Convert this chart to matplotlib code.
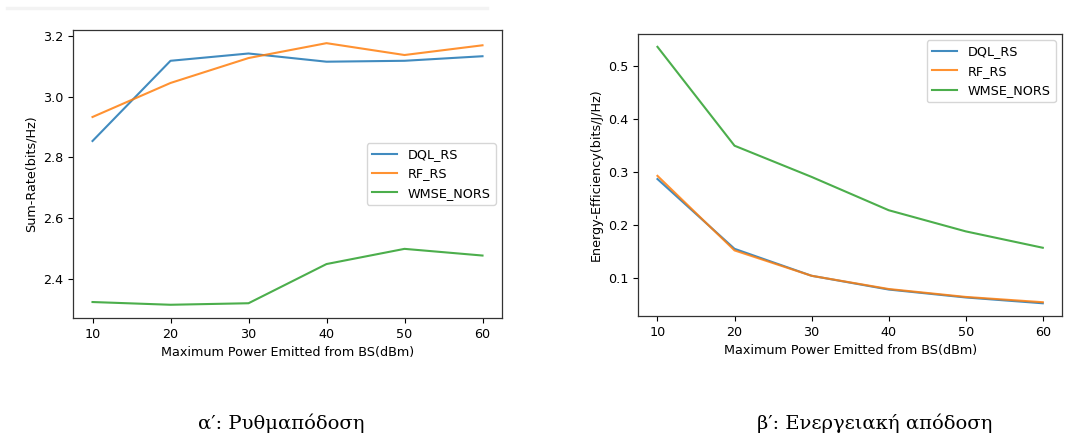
import matplotlib.pyplot as plt
from matplotlib.lines import Line2D

power = [10, 20, 30, 40, 50, 60]
methods = ["DQL_RS", "RF_RS", "WMSE_NORS"]

# sum-rate (bits/Hz)
rate_dql = [2.854, 3.118, 3.142, 3.115, 3.118, 3.133]
rate_rf = [2.933, 3.045, 3.127, 3.176, 3.137, 3.169]
rate_wmse = [2.324, 2.315, 2.320, 2.449, 2.499, 2.477]

# energy efficiency (bits/J/Hz)
ee_dql = [0.287, 0.155, 0.104, 0.078, 0.063, 0.052]
ee_rf = [0.293, 0.152, 0.104, 0.079, 0.064, 0.054]
ee_wmse = [0.537, 0.350, 0.291, 0.228, 0.188, 0.157]

captions = ["α′: Ρυθμαπόδοση", "β′: Ενεργειακή απόδοση"]

fig = plt.figure(figsize=(10.69, 4.36), dpi=100)
fs = 9.2
lw = 1.5

ax1 = fig.add_axes([0.0683, 0.271, 0.4013, 0.660])
for vals, name in zip([rate_dql, rate_rf, rate_wmse], methods):
    ax1.plot(power, vals, label=name, linewidth=lw, alpha=0.85)
ax1.set_xlabel("Maximum Power Emitted from BS(dBm)", fontsize=fs)
ax1.set_ylabel("Sum-Rate(bits/Hz)", fontsize=fs)
ax1.set_yticks([2.4, 2.6, 2.8, 3.0, 3.2])
ax1.tick_params(labelsize=fs)
ax1.legend(loc="center right", fontsize=fs)

ax2 = fig.add_axes([0.597, 0.275, 0.3965, 0.647])
for vals, name in zip([ee_dql, ee_rf, ee_wmse], methods):
    ax2.plot(power, vals, label=name, linewidth=lw, alpha=0.85)
ax2.set_xlabel("Maximum Power Emitted from BS(dBm)", fontsize=fs)
ax2.set_ylabel("Energy-Efficiency(bits/J/Hz)", fontsize=fs)
ax2.set_yticks([0.1, 0.2, 0.3, 0.4, 0.5])
ax2.tick_params(labelsize=fs)
ax2.legend(loc="upper right", fontsize=fs)

for ax in (ax1, ax2):
    ax.set_xticks(power)
    for s in ax.spines.values():
        s.set_linewidth(0.9)
        s.set_color("#333333")

# notebook cell separator at the top
fig.add_artist(Line2D([0.007, 0.456], [0.982, 0.982], color="#f3f3f3", linewidth=2.5))

fig.text(0.263, 0.016, captions[0], ha="center", va="baseline", fontsize=14,
         family="DejaVu Serif")
fig.text(0.818, 0.016, captions[1], ha="center", va="baseline", fontsize=14,
         family="DejaVu Serif")

fig.savefig("out.png", dpi=100)
